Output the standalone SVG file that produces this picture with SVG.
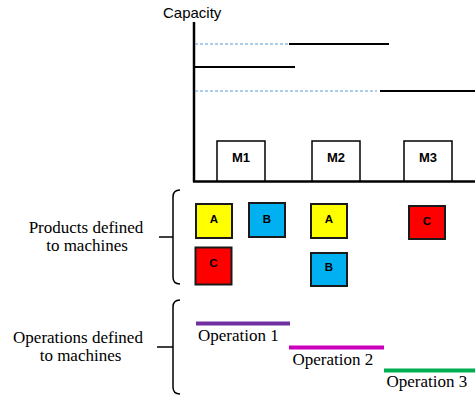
<svg xmlns="http://www.w3.org/2000/svg" width="475" height="399" viewBox="0 0 475 399">
<style>
.sans{font-family:"Liberation Sans",Arial,sans-serif;fill:#000}
.serif{font-family:"Liberation Serif","Times New Roman",serif;font-size:17px;fill:#000}
.mbox{fill:#fff;stroke:#000;stroke-width:1.5}
.mlab{font-family:"Liberation Sans",Arial,sans-serif;font-weight:bold;font-size:13px;text-anchor:middle}
.pbox{stroke:#1a1a1a;stroke-width:2}
.plab{font-family:"Liberation Sans",Arial,sans-serif;font-weight:bold;font-size:11.5px;text-anchor:middle}
.axis{stroke:#000;stroke-width:2.5;fill:none}
.cap{stroke:#000;stroke-width:2;fill:none}
.dash{stroke:#5b9bd5;stroke-width:1;stroke-dasharray:3 2;fill:none}
.brace{stroke:#000;stroke-width:1.5;fill:none}
.op{stroke-width:4;fill:none}
</style>
<rect width="475" height="399" fill="#fff"/>
<text class="sans" x="163" y="18" font-size="15">Capacity</text>
<g id="connectors">
<line class="axis" x1="194" y1="22" x2="194" y2="182"/>
<line class="axis" x1="193" y1="181.5" x2="475" y2="181.5"/>
<line class="dash" x1="195" y1="44" x2="288" y2="44"/>
<line class="cap" x1="289" y1="44" x2="389" y2="44"/>
<line class="cap" x1="194" y1="67" x2="295" y2="67"/>
<line class="dash" x1="195" y1="91" x2="377" y2="91"/>
<line class="cap" x1="380" y1="91" x2="475" y2="91"/>
<path class="brace" d="M180,190 Q173,190 173,197 V277 Q173,284 180,284 M159,237 H173"/>
<path class="brace" d="M180,300 Q173,300 173,307 V387 Q173,394 180,394 M157,347 H173"/>
</g>
<g id="M1"><rect class="mbox" x="217" y="141" width="48" height="40"/><text class="mlab" x="241" y="161.5">M1</text></g>
<g id="M2"><rect class="mbox" x="312" y="141" width="48" height="40"/><text class="mlab" x="336" y="161.5">M2</text></g>
<g id="M3"><rect class="mbox" x="404" y="141" width="48" height="40"/><text class="mlab" x="428" y="161.5">M3</text></g>
<g id="products-label"><text class="serif" text-anchor="middle" x="86" y="233">Products defined</text><text class="serif" text-anchor="middle" x="87" y="251">to machines</text></g>
<g id="A1"><rect class="pbox" x="196" y="204" width="36" height="34" fill="#ffff00"/><text class="plab" x="214" y="223">A</text></g>
<g id="B1"><rect class="pbox" x="249" y="203" width="36" height="34" fill="#00b0f0"/><text class="plab" x="267" y="222.5">B</text></g>
<g id="A2"><rect class="pbox" x="311" y="204" width="36" height="34" fill="#ffff00"/><text class="plab" x="329" y="223">A</text></g>
<g id="C2"><rect class="pbox" x="409" y="206" width="36" height="33" fill="#ff0000"/><text class="plab" x="427" y="224.5">C</text></g>
<g id="C1"><rect class="pbox" x="195.5" y="247.5" width="36" height="37" fill="#ff0000"/><text class="plab" x="213.5" y="266.5">C</text></g>
<g id="B2"><rect class="pbox" x="311" y="253" width="36" height="33" fill="#00b0f0"/><text class="plab" x="329" y="271">B</text></g>
<g id="operations-label"><text class="serif" text-anchor="middle" x="78" y="343">Operations defined</text><text class="serif" text-anchor="middle" x="80.5" y="361">to machines</text></g>
<g id="op1"><line class="op" x1="196" y1="323.5" x2="290" y2="323.5" stroke="#7030a0"/><text class="serif" x="198" y="341">Operation 1</text></g>
<g id="op2"><line class="op" x1="289" y1="347.5" x2="384" y2="347.5" stroke="#cc00bb"/><text class="serif" x="292.5" y="365">Operation 2</text></g>
<g id="op3"><line class="op" x1="384" y1="370.5" x2="475" y2="370.5" stroke="#00b050"/><text class="serif" x="386.5" y="387">Operation 3</text></g>
</svg>
